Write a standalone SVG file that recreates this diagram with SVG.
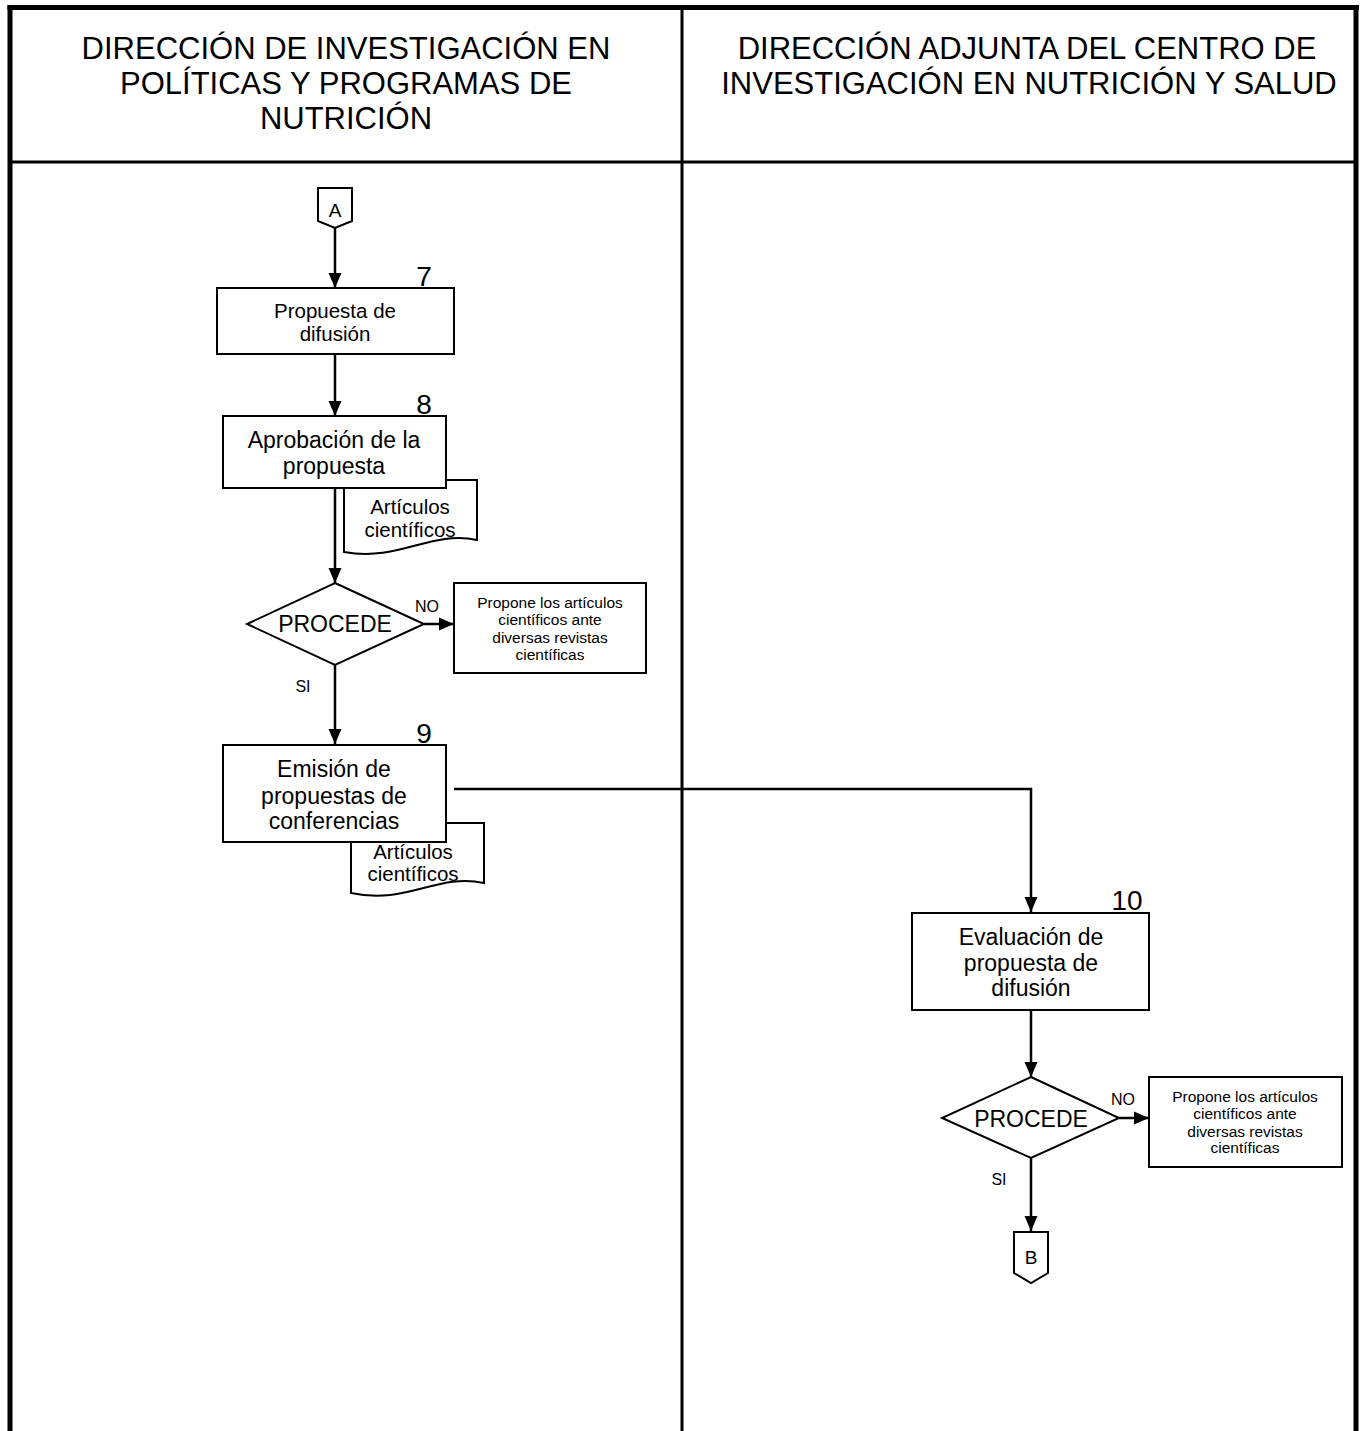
<svg xmlns="http://www.w3.org/2000/svg" width="1362" height="1431" viewBox="0 0 1362 1431">
<style>
text{font-family:"Liberation Sans",Arial,sans-serif;fill:#000;text-anchor:middle}
.hd{font-size:31px}
.box{fill:#fff;stroke:#000;stroke-width:2}
.t23{font-size:23px}
.t20{font-size:20.5px}
.num{font-size:28px}
.sm{font-size:15.5px}
.lbl{font-size:16px}
.con{fill:none;stroke:#000;stroke-width:2.5}
</style>
<defs>
<marker id="ar" markerUnits="userSpaceOnUse" markerWidth="16" markerHeight="16" viewBox="0 0 16 16" refX="15" refY="8" orient="auto">
<path d="M0,1.5 L15,8 L0,14.5 Z" fill="#000"/>
</marker>
</defs>
<rect width="1362" height="1431" fill="#fff"/>
<g id="frame" stroke="#000" fill="none">
<line x1="7.5" y1="7.5" x2="1359" y2="7.5" stroke-width="5"/>
<line x1="10" y1="5" x2="10" y2="1431" stroke-width="5"/>
<line x1="1356" y1="5" x2="1356" y2="1431" stroke-width="5"/>
<line x1="682" y1="7" x2="682" y2="1431" stroke-width="3"/>
<line x1="10" y1="162" x2="1356" y2="162" stroke-width="3"/>
</g>
<g id="header-left">
<text class="hd" x="346" y="59">DIRECCIÓN DE INVESTIGACIÓN EN</text>
<text class="hd" x="346" y="94">POLÍTICAS Y PROGRAMAS DE</text>
<text class="hd" x="346" y="129">NUTRICIÓN</text>
</g>
<g id="header-right">
<text class="hd" x="1027" y="59">DIRECCIÓN ADJUNTA DEL CENTRO DE</text>
<text class="hd" x="1029" y="94">INVESTIGACIÓN EN NUTRICIÓN Y SALUD</text>
</g>
<g id="connectors">
<line class="con" x1="335" y1="228" x2="335" y2="288" marker-end="url(#ar)"/>
<line class="con" x1="335" y1="354" x2="335" y2="416" marker-end="url(#ar)"/>
<line class="con" x1="335" y1="488" x2="335" y2="583" marker-end="url(#ar)"/>
<line class="con" x1="424" y1="624" x2="454" y2="624" marker-end="url(#ar)"/>
<line class="con" x1="335" y1="665" x2="335" y2="744" marker-end="url(#ar)"/>
<polyline class="con" points="454,789 1031,789 1031,912" marker-end="url(#ar)"/>
<line class="con" x1="1031" y1="1010" x2="1031" y2="1077" marker-end="url(#ar)"/>
<line class="con" x1="1119" y1="1118" x2="1149" y2="1118" marker-end="url(#ar)"/>
<line class="con" x1="1031" y1="1158" x2="1031" y2="1231" marker-end="url(#ar)"/>
</g>
<g id="conn-A">
<path class="box" d="M318,188 H352 V221 L335,228 L318,221 Z"/>
<text x="335" y="217" style="font-size:19px">A</text>
</g>
<g id="step7">
<rect class="box" x="217" y="288" width="237" height="66"/>
<text class="t20" x="335" y="318">Propuesta de</text>
<text class="t20" x="335" y="341">difusión</text>
<text class="num" x="424" y="286">7</text>
</g>
<g id="doc1">
<path class="box" d="M344,480 H477 V540 C430,530 400,562 344,552 Z"/>
<text class="t20" x="410" y="514">Artículos</text>
<text class="t20" x="410" y="537">científicos</text>
</g>
<g id="step8">
<rect class="box" x="223" y="416" width="223" height="72"/>
<text class="t23" x="334" y="448">Aprobación de la</text>
<text class="t23" x="334" y="474">propuesta</text>
<text class="num" x="424" y="414">8</text>
</g>
<g id="decision1">
<path class="box" d="M335,583 L424,624 L335,665 L247,624 Z"/>
<text class="t23" x="335" y="632">PROCEDE</text>
<text class="lbl" x="427" y="612">NO</text>
<text class="lbl" x="303" y="692">SI</text>
</g>
<g id="alt1">
<rect class="box" x="454" y="583" width="192" height="90"/>
<text class="sm" x="550" y="608">Propone los artículos</text>
<text class="sm" x="550" y="625">científicos ante</text>
<text class="sm" x="550" y="643">diversas revistas</text>
<text class="sm" x="550" y="660">científicas</text>
</g>
<g id="doc2">
<path class="box" d="M351,823 H484 V883 C437,873 407,905 351,893 Z"/>
<text class="t20" x="413" y="859">Artículos</text>
<text class="t20" x="413" y="881">científicos</text>
</g>
<g id="step9">
<rect class="box" x="223" y="745" width="223" height="97"/>
<text class="t23" x="334" y="777">Emisión de</text>
<text class="t23" x="334" y="804">propuestas de</text>
<text class="t23" x="334" y="829">conferencias</text>
<text class="num" x="424" y="743">9</text>
</g>
<g id="step10">
<rect class="box" x="912" y="913" width="237" height="97"/>
<text class="t23" x="1031" y="945">Evaluación de</text>
<text class="t23" x="1031" y="971">propuesta de</text>
<text class="t23" x="1031" y="996">difusión</text>
<text class="num" x="1127" y="910">10</text>
</g>
<g id="decision2">
<path class="box" d="M1031,1077 L1119,1118 L1031,1158 L942,1118 Z"/>
<text class="t23" x="1031" y="1127">PROCEDE</text>
<text class="lbl" x="1123" y="1105">NO</text>
<text class="lbl" x="999" y="1185">SI</text>
</g>
<g id="alt2">
<rect class="box" x="1149" y="1077" width="193" height="90"/>
<text class="sm" x="1245" y="1102">Propone los artículos</text>
<text class="sm" x="1245" y="1119">científicos ante</text>
<text class="sm" x="1245" y="1137">diversas revistas</text>
<text class="sm" x="1245" y="1153">científicas</text>
</g>
<g id="conn-B">
<path class="box" d="M1014,1232 H1048 V1273 L1031,1283 L1014,1273 Z"/>
<text x="1031" y="1264" style="font-size:19px">B</text>
</g>
</svg>
